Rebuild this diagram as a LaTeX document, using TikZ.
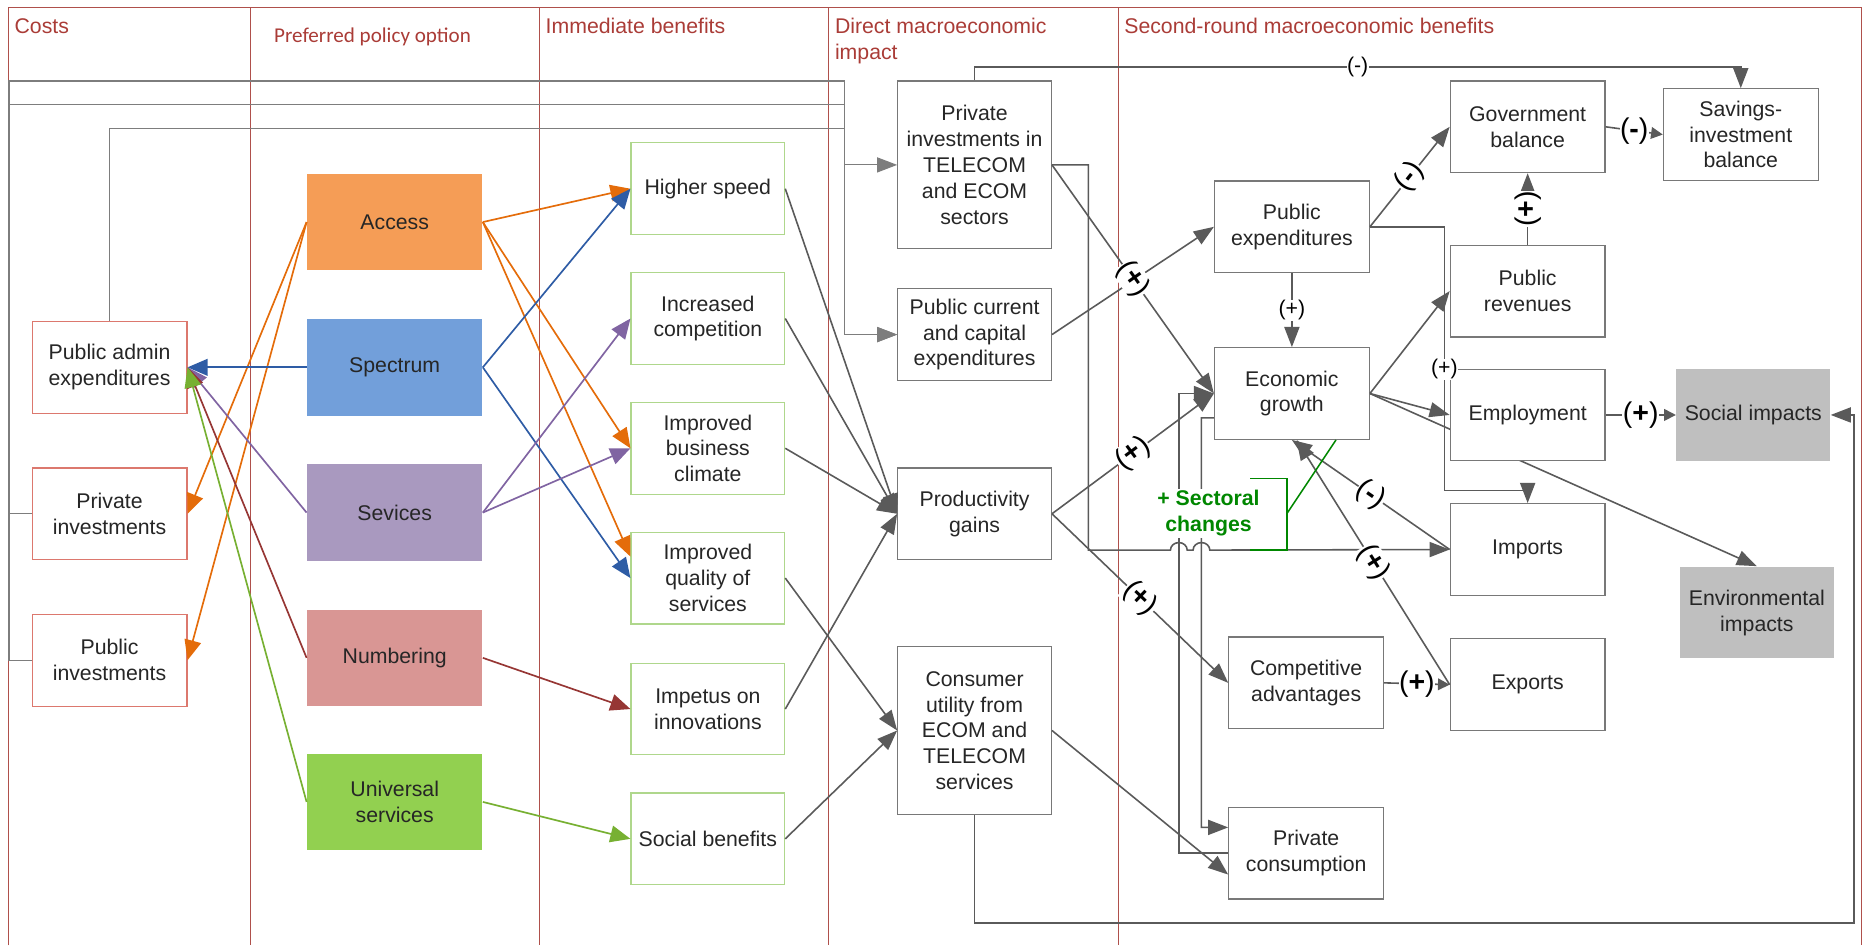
\documentclass[tikz,border=0pt]{standalone}
\usepackage{fontspec}
\setmainfont{Liberation Sans}
\newfontfamily\policyfont{Carlito}
\usetikzlibrary{arrows.meta,backgrounds}

\definecolor{hdrred}{RGB}{170,60,55}
\definecolor{colred}{RGB}{175,80,75}
\definecolor{costred}{RGB}{220,120,110}
\definecolor{benefitgreen}{RGB}{175,215,140}
\definecolor{boxgray}{RGB}{120,120,120}
\definecolor{linegray}{RGB}{90,90,90}
\definecolor{linklight}{RGB}{125,125,125}
\definecolor{txt}{RGB}{38,38,38}
\definecolor{accessfill}{RGB}{245,157,86}
\definecolor{spectrumfill}{RGB}{114,159,218}
\definecolor{servicesfill}{RGB}{169,153,191}
\definecolor{numberingfill}{RGB}{217,150,148}
\definecolor{universalfill}{RGB}{146,208,80}
\definecolor{impactgray}{RGB}{191,191,191}
\definecolor{accessline}{RGB}{228,108,10}
\definecolor{spectrumline}{RGB}{46,92,165}
\definecolor{servicesline}{RGB}{128,100,162}
\definecolor{numberingline}{RGB}{150,54,52}
\definecolor{universalline}{RGB}{119,176,50}
\definecolor{sectorgreen}{RGB}{0,135,0}

\tikzset{
  box/.style={draw=boxgray, line width=0.7pt, fill=white, text=txt, align=center,
    minimum width=3.25cm, minimum height=1.925cm, inner sep=1pt},
  cost/.style={box, draw=costred},
  benefit/.style={box, draw=benefitgreen, minimum width=3.225cm},
  macro/.style={box, minimum width=3.225cm},
  option/.style={box, draw=none, minimum width=3.675cm, minimum height=2.025cm},
  impact/.style={box, draw=none, fill=impactgray, minimum width=3.225cm},
  hdr/.style={anchor=north west, inner sep=0pt, align=left, text=hdrred},
  colline/.style={draw=colred, line width=0.6pt},
  arr/.style={draw=linegray, line width=0.95pt, -{Triangle[length=12pt,width=9pt]}},
  carr/.style={line width=1pt, -{Triangle[length=12pt,width=10pt]}},
  sarr/.style={arr, -{Triangle[length=7pt,width=7pt]}},
  costlink/.style={draw=linklight, line width=0.7pt, -{Triangle[length=12pt,width=9pt]}},
  signlbl/.style={fill=white, inner sep=0.3pt, text=black, font=\fontsize{17}{17}\selectfont},
  smallsignlbl/.style={fill=white, inner sep=0.3pt, text=black},
  sectorline/.style={draw=sectorgreen, line width=0.9pt},
}

\begin{document}
\begin{tikzpicture}[x=0.025cm, y=-0.025cm, font=\fontsize{12.7}{15.4}\selectfont]
  \useasboundingbox (0,0) rectangle (1568,794);

  % Spalten
  \draw[colline] (7,794) -- (7,6) -- (1563,6) -- (1563,794);
  \draw[colline] (210,6) -- (210,794);
  \draw[colline] (453,6) -- (453,794);
  \draw[colline] (696,6) -- (696,794);
  \draw[colline] (939,6) -- (939,794);

  % Ueberschriften
  \node[hdr] (hcosts) at (12,15) {Costs};
  \node[hdr, font=\policyfont\fontsize{12.6}{15}\selectfont] (hpolicy) at (230,23) {Preferred policy option};
  \node[hdr] (hbenefits) at (458,15) {Immediate benefits};
  \node[hdr] (hdirect) at (701,15) {Direct macroeconomic\\impact};
  \node[hdr] (hsecond) at (944,15) {Second-round macroeconomic benefits};

  % Kosten
  \node[cost] (padmin) at (92,308.5) {Public admin\\expenditures};
  \node[cost] (privinv) at (92,431.5) {Private\\investments};
  \node[cost] (pubinv) at (92,554.5) {Public\\investments};

  % Politikoptionen
  \node[option, fill=accessfill] (access) at (331.5,186.5) {Access};
  \node[option, fill=spectrumfill] (spectrum) at (331.5,308.5) {Spectrum};
  \node[option, fill=servicesfill] (services) at (331.5,430.5) {Sevices};
  \node[option, fill=numberingfill] (numbering) at (331.5,552.5) {Numbering};
  \node[option, fill=universalfill] (universal) at (331.5,673.5) {Universal\\services};

  % Unmittelbare Vorteile
  \node[benefit] (speed) at (594.5,158.5) {Higher speed};
  \node[benefit] (competition) at (594.5,267.5) {Increased\\competition};
  \node[benefit] (climate) at (594.5,376.5) {Improved\\business\\climate};
  \node[benefit] (quality) at (594.5,485.5) {Improved\\quality of\\services};
  \node[benefit] (impetus) at (594.5,595.5) {Impetus on\\innovations};
  \node[benefit] (social) at (594.5,704.5) {Social benefits};

  % Direkte Wirkung
  \node[macro, minimum height=3.525cm] (privtel) at (818.5,138.5) {Private\\investments in\\TELECOM\\and ECOM\\sectors};
  \node[macro] (pubcur) at (818.5,281) {Public current\\and capital\\expenditures};
  \node[macro] (prod) at (818.5,431.5) {Productivity\\gains};
  \node[macro, minimum height=3.525cm] (utility) at (818.5,613.5) {Consumer\\utility from\\ECOM and\\TELECOM\\services};

  % Zweite Runde
  \node[box] (pubexp) at (1085,190.5) {Public\\expenditures};
  \node[box] (growth) at (1085,330.5) {Economic\\growth};
  \node[box] (govbal) at (1283,106.5) {Government\\balance};
  \node[box] (savings) at (1462,113) {Savings-\\investment\\balance};
  \node[box] (pubrev) at (1283,244.5) {Public\\revenues};
  \node[box] (employment) at (1283,348.5) {Employment};
  \node[impact] (socimp) at (1472.5,348.5) {Social impacts};
  \node[box] (imports) at (1283,461.5) {Imports};
  \node[impact] (envimp) at (1475.5,514.5) {Environmental\\impacts};
  \node[box] (compadv) at (1097,573.5) {Competitive\\advantages};
  \node[box] (exports) at (1283,575) {Exports};
  \node[box] (privcons) at (1097,716.5) {Private\\consumption};

  % Politikoptionen -> Kosten und Vorteile
  \draw[carr, draw=accessline] (access.east) -- (speed.west);
  \draw[carr, draw=accessline] (access.east) -- (climate.west);
  \draw[carr, draw=accessline] (access.east) -- ([yshift=0.45cm]quality.west);
  \draw[carr, draw=accessline] (access.west) -- (privinv.east);
  \draw[carr, draw=accessline] (access.west) -- (pubinv.east);
  \draw[carr, draw=spectrumline] (spectrum.west) -- (padmin.east);
  \draw[carr, draw=spectrumline] (spectrum.east) -- (speed.west);
  \draw[carr, draw=spectrumline] (spectrum.east) -- (quality.west);
  \draw[carr, draw=servicesline] (services.west) -- (padmin.east);
  \draw[carr, draw=servicesline] (services.east) -- (competition.west);
  \draw[carr, draw=servicesline] (services.east) -- (climate.west);
  \draw[carr, draw=numberingline] (numbering.west) -- (padmin.east);
  \draw[carr, draw=numberingline] (numbering.east) -- (impetus.west);
  \draw[carr, draw=universalline] (universal.west) -- (padmin.east);
  \draw[carr, draw=universalline] (universal.east) -- (social.west);

  % Vorteile -> direkte Wirkung
  \draw[arr] (speed.east) -- (prod.west);
  \draw[arr] (competition.east) -- (prod.west);
  \draw[arr] (climate.east) -- (prod.west);
  \draw[arr] (impetus.east) -- (prod.west);
  \draw[arr] (quality.east) -- (utility.west);
  \draw[arr] (social.east) -- (utility.west);

  % Kosten -> direkte Wirkung
  \draw[costlink] (privinv.west) -- ++(-19,0) |- (709,68) |- (privtel.west);
  \draw[costlink] (pubinv.west) -- ++(-19,0) |- (709,88) |- (pubcur.west);
  \draw[costlink] (padmin.north) |- (709,108) |- (pubcur.west);

  % direkte Wirkung -> zweite Runde
  \draw[arr] (privtel.north) -- ++(0,-11) -| node[pos=0.25, smallsignlbl] {(-)} (savings.north);
  \draw[arr] (privtel.east) -| (914,462) -- (983,462)
    arc[start angle=180, end angle=0, x radius=5pt, y radius=4.5pt] -- (1002,462)
    arc[start angle=180, end angle=0, x radius=5pt, y radius=4.5pt] -- (imports.west);
  \draw[arr] (pubcur.east) -- (pubexp.west);
  \draw[arr] (privtel.east) -- node[signlbl, sloped] {(\textbf{+})} (growth.west);
  \draw[arr] (prod.east) -- node[signlbl, sloped] {(\textbf{+})} (growth.west);
  \draw[arr] (prod.east) -- node[signlbl, sloped] {(\textbf{+})} (compadv.west);
  \draw[arr] (utility.east) -- ([yshift=-0.45cm]privcons.west);
  \draw[arr] (utility.south) |- (1557,775) |- (socimp.east);

  % zweite Runde
  \begin{pgfonlayer}{background}
    \draw[arr] (growth.east) -- (envimp.north);
  \end{pgfonlayer}
  \draw[arr] (pubexp.east) -- node[signlbl, sloped] {(\textbf{-})} (govbal.west);
  \draw[arr] (pubexp.east) -| node[pos=0.77, smallsignlbl] {(+)} (1213,412) -| (imports.north);
  \draw[arr] (pubexp.south) -- node[smallsignlbl] {(+)} (growth.north);
  \draw[arr] (pubrev.north) -- node[signlbl, sloped] {(\textbf{+})} (govbal.south);
  \draw[sarr] (govbal.east) -- node[signlbl] {(\textbf{-})} (savings.west);
  \draw[arr] (growth.east) -- (pubrev.west);
  \draw[arr] (growth.east) -- (employment.west);
  \draw[sarr] (employment.east) -- node[signlbl] {(\textbf{+})} (socimp.west);
  \draw[arr] (imports.west) -- node[signlbl, sloped] {(\textbf{-})} (growth.south);
  \draw[arr] (exports.west) -- node[signlbl, sloped] {(\textbf{+})} ([xshift=0.1cm]growth.south);
  \draw[sarr] (compadv.east) -- node[signlbl] {(\textbf{+})} (exports.west);
  \draw[arr] ([yshift=-0.51cm]growth.west) -- (1009,351) |- ([yshift=0.54cm]privcons.west);
  \draw[arr] (privcons.west) -| (990,330.5) -- (growth.west);

  % Sektoraler Wandel
  \node[fill=white, inner sep=1pt, align=center, text=sectorgreen, font=\bfseries\fontsize{12.7}{15.4}\selectfont] (sectoral) at (1015,431) {+ Sectoral\\changes};
  \coordinate (brtop) at (1050,402);
  \coordinate (brbot) at (1050,462);
  \coordinate (brmid) at (1081,431);
  \draw[sectorline] (brtop) -- (1081,402) -- (1081,462) -- (brbot);
  \draw[sectorline] (brmid) -- ([xshift=0.925cm]growth.south);
\end{tikzpicture}
\end{document}
